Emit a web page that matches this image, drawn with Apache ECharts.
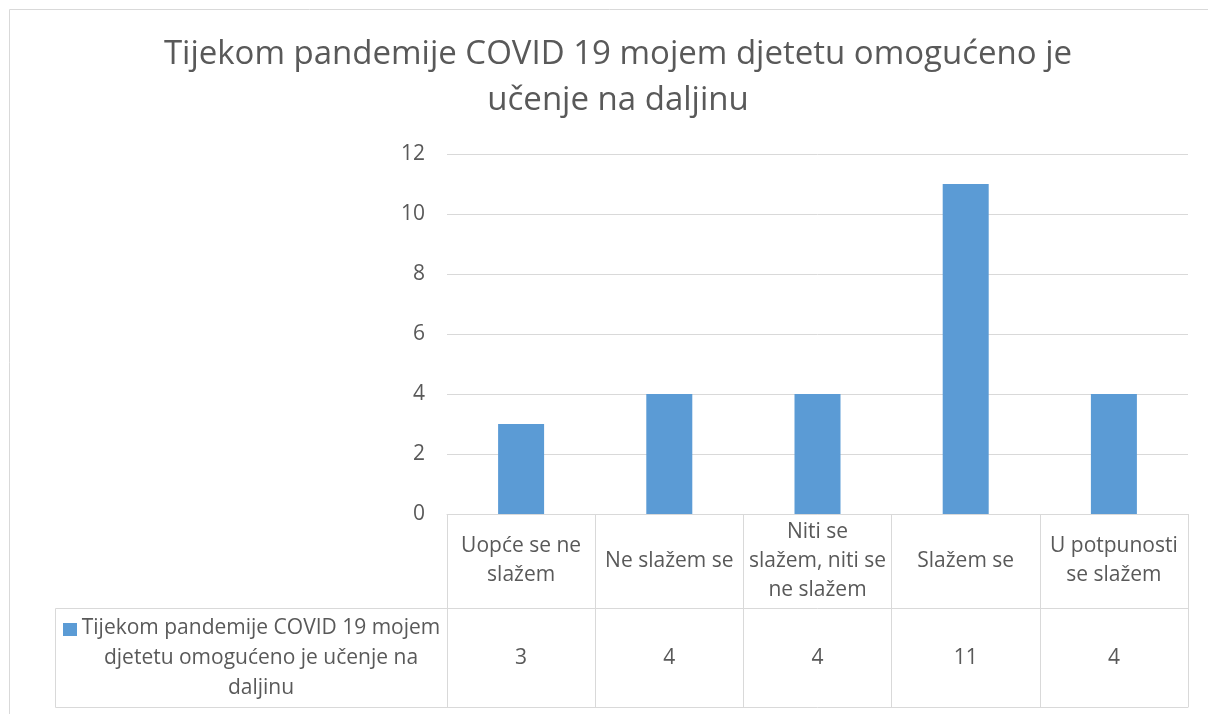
<!DOCTYPE html>
<html>
<head>
<meta charset="utf-8">
<script src="https://cdn.jsdelivr.net/npm/echarts@6/dist/echarts.min.js"></script>
<style>
  html, body { margin: 0; padding: 0; background: #fff; }
  #chart { width: 1208px; height: 714px; }
</style>
</head>
<body>
<div id="chart"></div>
<script>
// podaci
var titleText = 'Tijekom pandemije COVID 19 mojem djetetu omogućeno je\nučenje na daljinu';
var seriesName = 'Tijekom pandemije COVID 19 mojem djetetu omogućeno je učenje na daljinu';
var legendLabel = 'Tijekom pandemije COVID 19 mojem\ndjetetu omogućeno je učenje na\ndaljinu';
var categories = ['Uopće se ne slažem', 'Ne slažem se', 'Niti se slažem, niti se ne slažem', 'Slažem se', 'U potpunosti se slažem'];
var categoryLabels = ['Uopće se ne\nslažem', 'Ne slažem se', 'Niti se\nslažem, niti se\nne slažem', 'Slažem se', 'U potpunosti\nse slažem'];
var values = [3, 4, 4, 11, 4];

var textColor = '#595959';
var lineColor = '#d9d9d9';
var font = '"Open Sans", sans-serif';

var chart = echarts.init(document.getElementById('chart'));

var option = {
    animation: false,
    textStyle: { fontFamily: font },
    title: {
        text: titleText,
        left: 613,
        top: 27,
        textAlign: 'center',
        textStyle: {
            color: textColor,
            fontSize: 33,
            fontWeight: 'normal',
            lineHeight: 46,
            fontFamily: font
        }
    },
    grid: {
        left: 447,
        right: 20,
        top: 154,
        bottom: 200,
        outerBoundsMode: 'none'
    },
    xAxis: [
        {
            // kategorije + okomite linije tablice
            type: 'category',
            data: categories,
            axisLine: { show: true, lineStyle: { color: lineColor } },
            axisTick: { show: true, length: 193, lineStyle: { color: lineColor } },
            axisLabel: {
                interval: 0,
                margin: 47,
                verticalAlign: 'middle',
                lineHeight: 29,
                fontSize: 21,
                color: textColor,
                formatter: function (v, i) { return categoryLabels[i]; }
            }
        },
        {
            // red s vrijednostima
            type: 'category',
            data: categories,
            position: 'bottom',
            offset: 94,
            axisLine: { show: true, lineStyle: { color: lineColor } },
            axisTick: { show: false },
            axisLabel: {
                interval: 0,
                margin: 50,
                verticalAlign: 'middle',
                fontSize: 21,
                color: textColor,
                formatter: function (v, i) { return String(values[i]); }
            }
        },
        {
            type: 'category',
            data: categories,
            position: 'bottom',
            offset: 193,
            axisLine: { show: true, lineStyle: { color: lineColor } },
            axisTick: { show: false },
            axisLabel: { show: false }
        }
    ],
    yAxis: {
        type: 'value',
        min: 0,
        max: 12,
        interval: 2,
        axisLine: { show: false },
        axisTick: { show: false },
        axisLabel: { margin: 22, fontSize: 21, color: textColor },
        splitLine: { lineStyle: { color: lineColor } }
    },
    graphic: [
        {
            type: 'rect',
            shape: { x: 9.5, y: 9.5, width: 1400, height: 900 },
            style: { fill: null, stroke: lineColor, lineWidth: 1 },
            silent: true
        },
        {
            type: 'rect',
            shape: { x: 55.5, y: 608.5, width: 392, height: 99 },
            style: { fill: null, stroke: lineColor, lineWidth: 1 },
            silent: true
        },
        {
            type: 'rect',
            shape: { x: 63, y: 623, width: 14, height: 13 },
            style: { fill: '#5b9bd5' },
            silent: true
        },
        {
            type: 'text',
            x: 261,
            y: 658,
            style: {
                text: legendLabel,
                align: 'center',
                verticalAlign: 'middle',
                lineHeight: 30,
                fontSize: 21,
                fontFamily: font,
                fill: textColor
            },
            silent: true
        }
    ],
    series: [
        {
            name: seriesName,
            type: 'bar',
            xAxisIndex: 0,
            data: values,
            barWidth: 46,
            itemStyle: { color: '#5b9bd5' }
        }
    ]
};

chart.setOption(option);
</script>
</body>
</html>
